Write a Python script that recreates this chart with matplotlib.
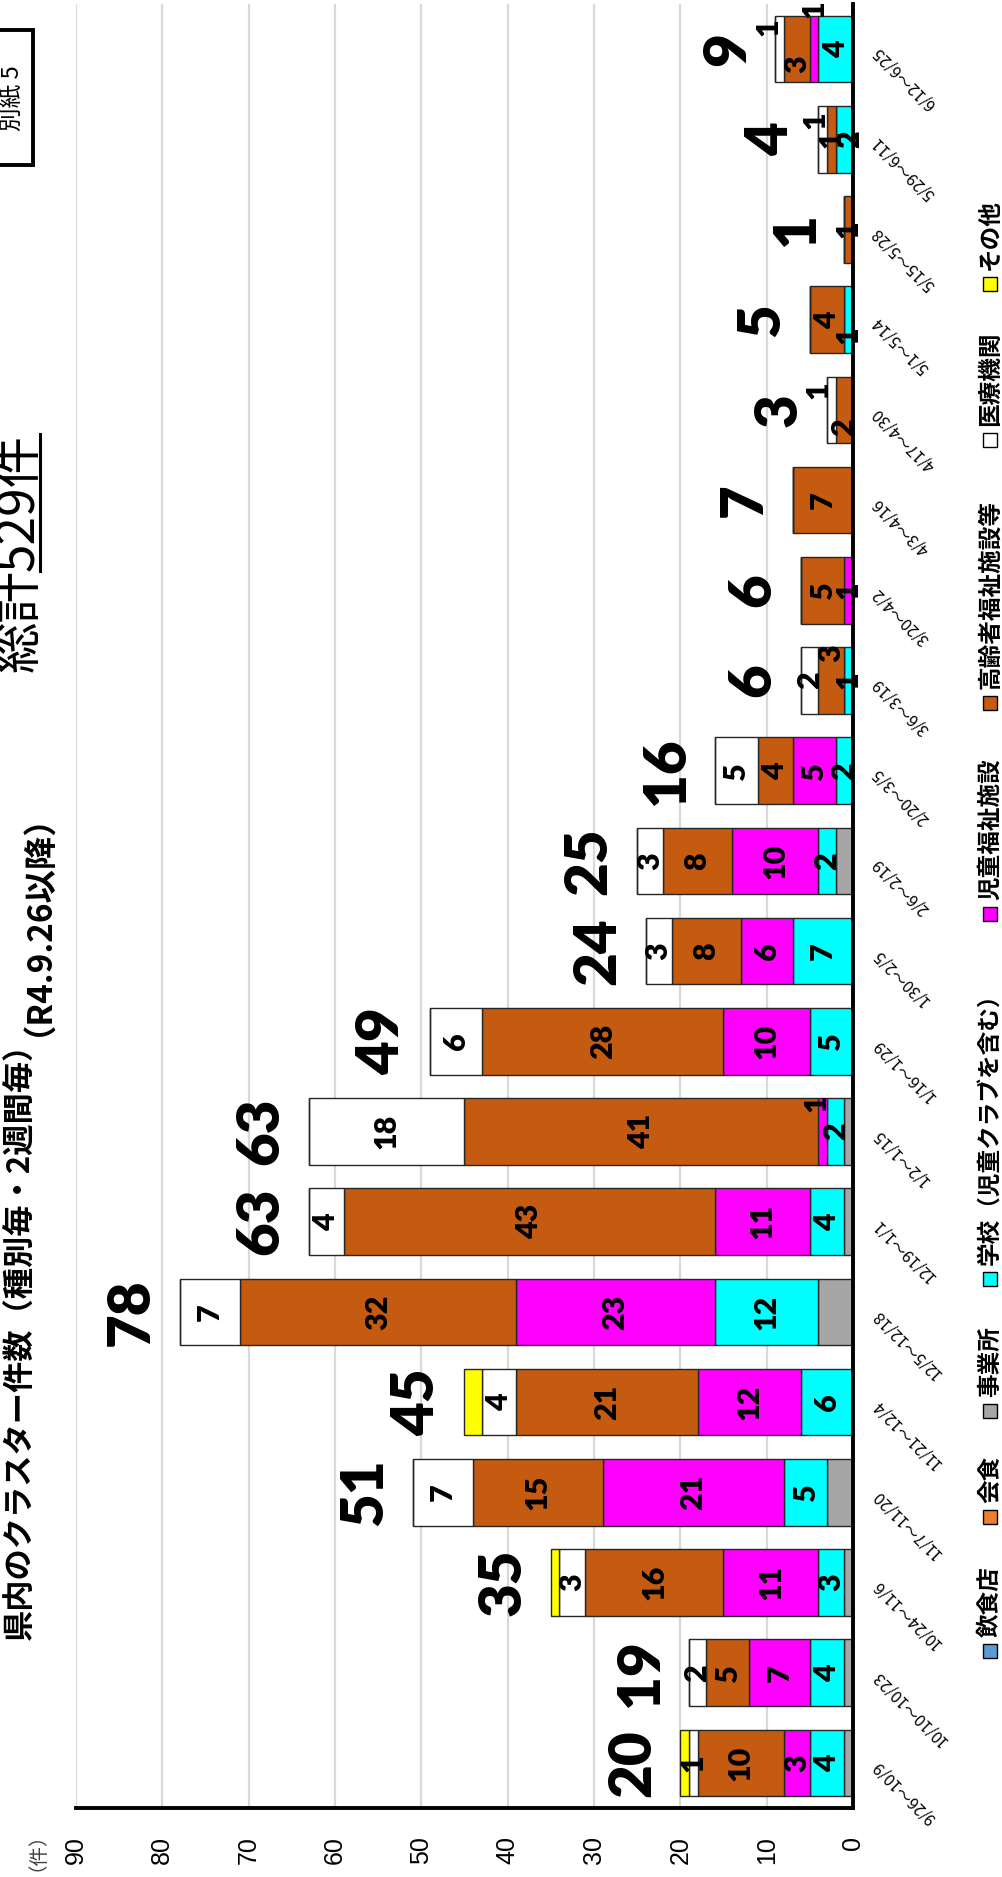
import matplotlib
matplotlib.use('Agg')
import matplotlib.pyplot as plt
import matplotlib.transforms as mtransforms
from matplotlib.patches import Rectangle
from matplotlib.lines import Line2D
import numpy as np

# ---------------- data ----------------
periods = ["9/26～10/9", "10/10～10/23", "10/24～11/6", "11/7～11/20", "11/21～12/4",
           "12/5～12/18", "12/19～1/1", "1/2～1/15", "1/16～1/29", "1/30～2/5",
           "2/6～2/19", "2/20～3/5", "3/6～3/19", "3/20～4/2", "4/3～4/16",
           "4/17～4/30", "5/1～5/14", "5/15～5/28", "5/29～6/11", "6/12～6/25"]
inshokuten = [0] * 20                      # 飲食店
kaishoku = [0] * 20                        # 会食
jigyousho = [1, 1, 1, 3, 0, 4, 1, 1, 0, 0, 2, 0, 0, 0, 0, 0, 0, 0, 0, 0]      # 事業所
gakkou = [4, 4, 3, 5, 6, 12, 4, 2, 5, 7, 2, 2, 1, 0, 0, 0, 1, 0, 2, 4]       # 学校
jidou = [3, 7, 11, 21, 12, 23, 11, 1, 10, 6, 10, 5, 0, 1, 0, 0, 0, 0, 0, 1]   # 児童福祉施設
koureisha = [10, 5, 16, 15, 21, 32, 43, 41, 28, 8, 8, 4, 3, 5, 7, 2, 4, 1, 1, 3]  # 高齢者福祉施設等
iryou = [1, 2, 3, 7, 4, 7, 4, 18, 6, 3, 3, 5, 2, 0, 0, 1, 0, 0, 1, 1]        # 医療機関
sonota = [1, 0, 1, 0, 2, 0, 0, 0, 0, 0, 0, 0, 0, 0, 0, 0, 0, 0, 0, 0]        # その他

series_names = ["飲食店", "会食", "事業所", "学校（児童クラブを含む）", "児童福祉施設",
                "高齢者福祉施設等", "医療機関", "その他"]
series_vals = [inshokuten, kaishoku, jigyousho, gakkou, jidou, koureisha, iryou, sonota]
series_colors = ["#5B9BD5", "#ED7D31", "#A6A6A6", "#00FFFF", "#FF00FF",
                 "#C55A11", "#FFFFFF", "#FFFF00"]
labelled = [False, False, False, True, True, True, True, False]
value_ticks = list(range(0, 91, 10))

# nudges (pixels: right, up) for a few crowded data labels, as in the original
label_nudge = {
    (7, 4): (-6, 28), (19, 4): (0, 40), (19, 6): (-11, 22), (19, 5): (0, -15),
    (18, 6): (-7, 19), (18, 3): (6, 0), (15, 6): (-13, 20), (15, 5): (0, -17),
    (16, 3): (0, -15), (12, 5): (0, 27),
}

CJK = ['Noto Sans CJK JP', 'DejaVu Sans']
NUM = ['Lato', 'DejaVu Sans']

# ---------------- figure ----------------
W, H = 1003, 1877
fig = plt.figure(figsize=(W / 100, H / 100), dpi=100)
fig.patch.set_facecolor('white')


def fx(px):
    return px / W


def fy(py):
    return 1 - py / H


ax_left, ax_right, ax_top, ax_bottom = 76, 853, 4, 1808
ax = fig.add_axes([fx(ax_left), fy(ax_bottom), (ax_right - ax_left) / W, (ax_bottom - ax_top) / H])

n = len(periods)
ypos = np.arange(n)
left = np.zeros(n)
for k, (name, vals, col, lab) in enumerate(zip(series_names, series_vals, series_colors, labelled)):
    vals = np.array(vals, dtype=float)
    ax.barh(ypos, vals, left=left, height=0.74, color=col,
            edgecolor='#262626', linewidth=1.0, zorder=3)
    if lab:
        for i, v in enumerate(vals):
            if v > 0:
                dx, dy = label_nudge.get((i, k), (0, 0))
                ax.annotate(f"{int(v)}", xy=(left[i] + v / 2, ypos[i]), xytext=(dx, dy),
                            textcoords='offset pixels', rotation=90,
                            ha='center', va='center', fontsize=22, fontweight='heavy',
                            family=NUM, zorder=5, annotation_clip=False)
    left += vals

totals = left
for i, t in enumerate(totals):
    ax.annotate(f"{int(t)}", xy=(t, ypos[i]), xytext=(-48, 0), textcoords='offset pixels',
                rotation=90, ha='center', va='center', fontsize=42, fontweight='heavy',
                family=NUM, zorder=5)

ax.set_xlim(90, 0)
ax.set_ylim(-0.5, n - 0.5)
ax.set_xticks(value_ticks)
ax.set_xticklabels([str(v) for v in value_ticks], rotation=90, family=['Liberation Sans'],
                   fontsize=18)
ax.tick_params(axis='x', length=0, pad=20)
ax.set_yticks([])
ax.xaxis.grid(True, color='#D9D9D9', linewidth=1.6, zorder=0)
ax.set_axisbelow(True)
for s in ['top', 'left']:
    ax.spines[s].set_visible(False)
for s in ['right', 'bottom']:
    ax.spines[s].set_linewidth(2.8)
    ax.spines[s].set_color('black')
    ax.spines[s].set_zorder(6)

# period labels (right of the category axis)
trans = mtransforms.blended_transform_factory(ax.transAxes, ax.transData)
for i, p in enumerate(periods):
    ax.text(1 + 22 / (ax_right - ax_left), ypos[i], p, transform=trans, rotation=135,
            rotation_mode='anchor', ha='right', va='center', fontsize=11.5,
            family=CJK, clip_on=False)

# ---------------- titles ----------------
fig.text(fx(21), fy(1640), "県内のクラスター件数（種別毎・2週間毎）", rotation=90,
         ha='center', va='bottom', fontsize=22.5, fontweight='bold', family=CJK)
fig.text(fx(21), fy(1036), "（R4.9.26以降）", rotation=90,
         ha='center', va='bottom', fontsize=24, fontweight='bold', family=CJK)
t_sou = fig.text(fx(19), fy(672), "総計", rotation=90, ha='center', va='bottom',
                 fontsize=37, family=CJK)
fig.canvas.draw()
r = fig.canvas.get_renderer()
bb = t_sou.get_window_extent(r)
top_sou = H - bb.y1  # pixel row (from top) of the upper end of 総計
t_num = fig.text(fx(19), fy(top_sou + 2), "529件", rotation=90, ha='center', va='bottom',
                 fontsize=37, family=CJK)
fig.canvas.draw()
bb2 = t_num.get_window_extent(r)
fig.add_artist(Line2D([fx(40), fx(40)], [bb2.y0 / H, bb2.y1 / H], color='black',
                      linewidth=2.2))

# 別紙5 box
fig.add_artist(Rectangle((fx(-6), fy(165)), fx(39), (165 - 30) / H, fill=False,
                         edgecolor='black', linewidth=2.8))
fig.text(fx(13), fy(98), "別紙 5", rotation=90, ha='center', va='center',
         fontsize=17, family=CJK)

# (件)
fig.text(fx(27), fy(1842), "（件）", rotation=90, ha='center', va='center',
         fontsize=14, family=CJK, color='#404040')

# ---------------- legend ----------------
legend_y = [1651, 1517, 1411, 1279, 914, 703, 440, 284]
for name, col, ly in zip(series_names, series_colors, legend_y):
    fig.add_artist(Rectangle((fx(983), fy(ly + 7)), fx(14), 14 / H, facecolor=col,
                             edgecolor='black', linewidth=1.0))
    fig.text(fx(990), fy(ly - 14), name, rotation=90, ha='center', va='bottom',
             fontsize=17, fontweight='bold', family=CJK)

fig.savefig('out.png', dpi=100, facecolor='white')
